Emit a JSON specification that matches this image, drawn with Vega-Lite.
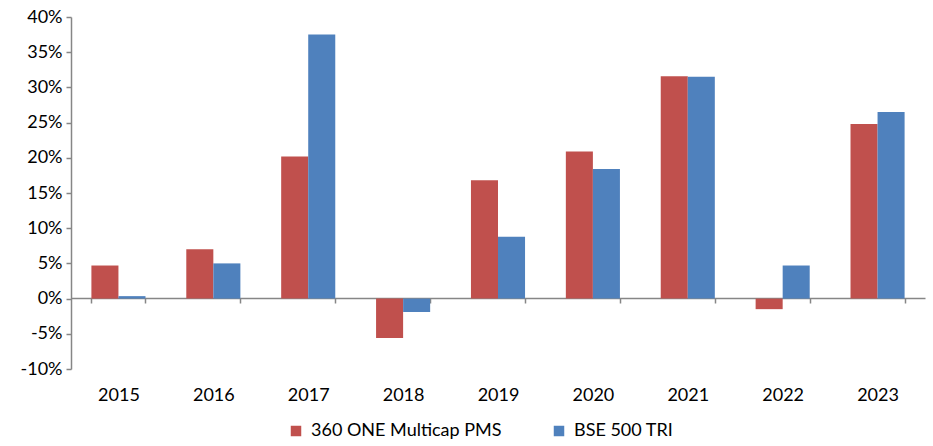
{
  "$schema": "https://vega.github.io/schema/vega-lite/v6.json",
  "width": 854,
  "height": 352,
  "autosize": {"type": "none"},
  "padding": {"left": 71, "top": 17, "right": 8, "bottom": 77},
  "background": "white",
  "config": {
    "view": {"stroke": null},
    "font": "Lato",
    "axis": {"labelFont": "Lato", "labelFontSize": 18, "labelColor": "#000000", "domainColor": "#868686", "tickColor": "#868686", "domainWidth": 1.5, "tickWidth": 1.5, "grid": false, "title": null}
  },
  "data": {
    "values": [
      {"year": "2015", "series": "360 ONE Multicap PMS", "value": 4.7},
      {"year": "2015", "series": "BSE 500 TRI", "value": 0.35},
      {"year": "2016", "series": "360 ONE Multicap PMS", "value": 7.0},
      {"year": "2016", "series": "BSE 500 TRI", "value": 5.0},
      {"year": "2017", "series": "360 ONE Multicap PMS", "value": 20.2},
      {"year": "2017", "series": "BSE 500 TRI", "value": 37.5},
      {"year": "2018", "series": "360 ONE Multicap PMS", "value": -5.6},
      {"year": "2018", "series": "BSE 500 TRI", "value": -1.9},
      {"year": "2019", "series": "360 ONE Multicap PMS", "value": 16.8},
      {"year": "2019", "series": "BSE 500 TRI", "value": 8.8},
      {"year": "2020", "series": "360 ONE Multicap PMS", "value": 20.9},
      {"year": "2020", "series": "BSE 500 TRI", "value": 18.4},
      {"year": "2021", "series": "360 ONE Multicap PMS", "value": 31.6},
      {"year": "2021", "series": "BSE 500 TRI", "value": 31.5},
      {"year": "2022", "series": "360 ONE Multicap PMS", "value": -1.5},
      {"year": "2022", "series": "BSE 500 TRI", "value": 4.7},
      {"year": "2023", "series": "360 ONE Multicap PMS", "value": 24.8},
      {"year": "2023", "series": "BSE 500 TRI", "value": 26.5}
    ]
  },
  "mark": {"type": "bar"},
  "encoding": {
    "x": {
      "field": "year", "type": "nominal",
      "scale": {"paddingInner": 0.43, "paddingOuter": 0.215},
      "axis": {"labelAngle": 0, "offset": -71, "tickBand": "extent", "tickSize": 5, "labelPadding": 83}
    },
    "xOffset": {"field": "series", "type": "nominal", "sort": ["360 ONE Multicap PMS", "BSE 500 TRI"]},
    "y": {
      "field": "value", "type": "quantitative",
      "scale": {"domain": [-10, 40], "nice": false, "zero": false},
      "axis": {"values": [-10, -5, 0, 5, 10, 15, 20, 25, 30, 35, 40], "labelExpr": "datum.value + '%'", "tickSize": 5, "labelPadding": 4}
    },
    "color": {
      "field": "series", "type": "nominal",
      "sort": ["360 ONE Multicap PMS", "BSE 500 TRI"],
      "scale": {"domain": ["360 ONE Multicap PMS", "BSE 500 TRI"], "range": ["#C0504D", "#4F81BD"]},
      "legend": {
        "title": null, "orient": "none", "direction": "horizontal",
        "legendX": 216, "legendY": 405,
        "symbolType": "square", "symbolSize": 110, "symbolStrokeWidth": 0,
        "labelFont": "Lato", "labelFontSize": 18, "labelColor": "#000000",
        "columnPadding": 48, "labelOffset": 6, "labelLimit": 400
      }
    }
  }
}
